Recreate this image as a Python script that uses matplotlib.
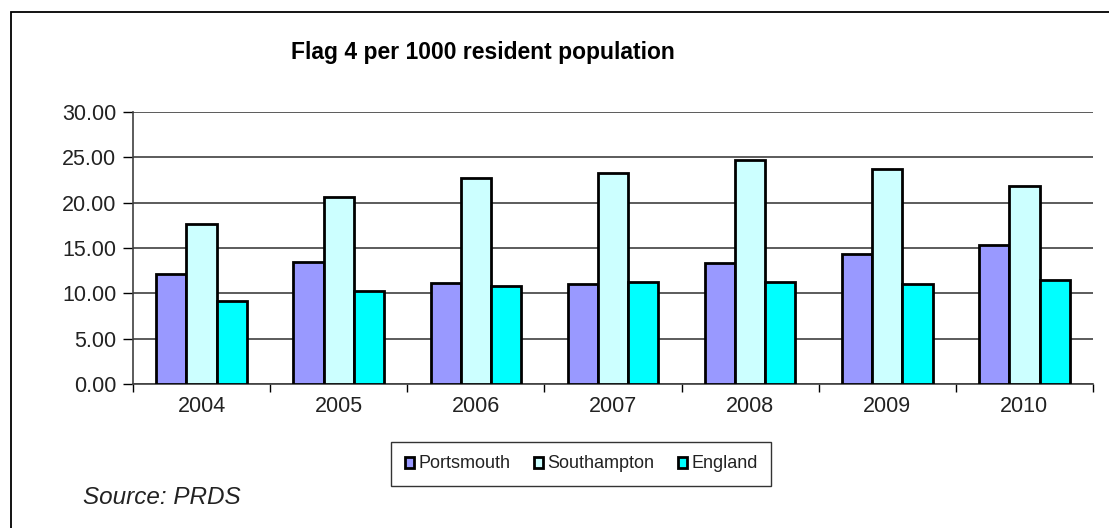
import numpy as np
import matplotlib
matplotlib.use("Agg")
import matplotlib.pyplot as plt
from matplotlib.patches import Rectangle

plt.rcParams['font.family'] = ['Liberation Sans', 'DejaVu Sans']

years = ['2004', '2005', '2006', '2007', '2008', '2009', '2010']
portsmouth = [12.10, 13.46, 11.18, 11.04, 13.31, 14.37, 15.29]
southampton = [17.64, 20.68, 22.70, 23.29, 24.72, 23.76, 21.89]
england = [9.17, 10.23, 10.85, 11.29, 11.29, 11.04, 11.48]

series = [('Portsmouth', portsmouth, '#9999FF'),
          ('Southampton', southampton, '#CCFFFF'),
          ('England', england, '#00FFFF')]

fig = plt.figure(figsize=(11.09, 5.28), dpi=100)

# outer chart frame (right and bottom run off the picture)
fig.patches.append(Rectangle((11 / 1109, -0.1), 1.2, 1 - 12 / 528 + 0.1,
                             transform=fig.transFigure, fill=False,
                             edgecolor='black', linewidth=1.3))

ax = fig.add_axes([133 / 1109, 1 - 384 / 528, 960 / 1109, 272 / 528])

x = np.arange(len(years))
w = 0.22
for i, (name, vals, col) in enumerate(series):
    ax.bar(x + (i - 1) * w, vals, width=w, color=col, edgecolor='black',
           linewidth=2, label=name, zorder=3)

ax.set_xlim(-0.5, len(years) - 0.5)
ax.set_ylim(0, 30)
ax.set_yticks(np.arange(0, 30.01, 5))
ax.set_yticklabels([f'{v:.2f}' for v in np.arange(0, 30.01, 5)],
                   fontsize=15.5, color='#222222')
ax.yaxis.grid(True, color='#404040', linewidth=1.2, zorder=0)

# category ticks between groups, labels centred under groups
ax.set_xticks(np.arange(-0.5, len(years), 1))
ax.set_xticklabels([])
ax.set_xticks(x, minor=True)
ax.set_xticklabels(years, minor=True, fontsize=15.5, color='#222222')
ax.tick_params(axis='x', which='minor', length=0, pad=9)
ax.tick_params(axis='x', which='major', length=6, width=1, direction='out')
ax.tick_params(axis='y', length=7, width=1, direction='out', pad=5)

for s in ['top', 'right']:
    ax.spines[s].set_visible(False)
for s in ['left', 'bottom']:
    ax.spines[s].set_color('#404040')
    ax.spines[s].set_linewidth(1.2)

fig.text(483 / 1109, 1 - 52 / 528, 'Flag 4 per 1000 resident population',
         ha='center', va='center', fontsize=16.5, fontweight='bold')

leg = fig.legend(loc='center', bbox_to_anchor=(581 / 1109, 1 - 464 / 528),
                 ncol=3, fontsize=13, frameon=True, fancybox=False,
                 edgecolor='black', handlelength=0.55, handleheight=0.55,
                 handletextpad=0.2, columnspacing=1.3, borderpad=0.75,
                 borderaxespad=0)
leg.get_frame().set_linewidth(1)
for t in leg.get_texts():
    t.set_color('#222222')

fig.text(83 / 1109, 1 - 498 / 528, 'Source: PRDS', ha='left', va='center',
         fontsize=17.5, style='italic', color='#222222')

fig.savefig('out.png', dpi=100)
